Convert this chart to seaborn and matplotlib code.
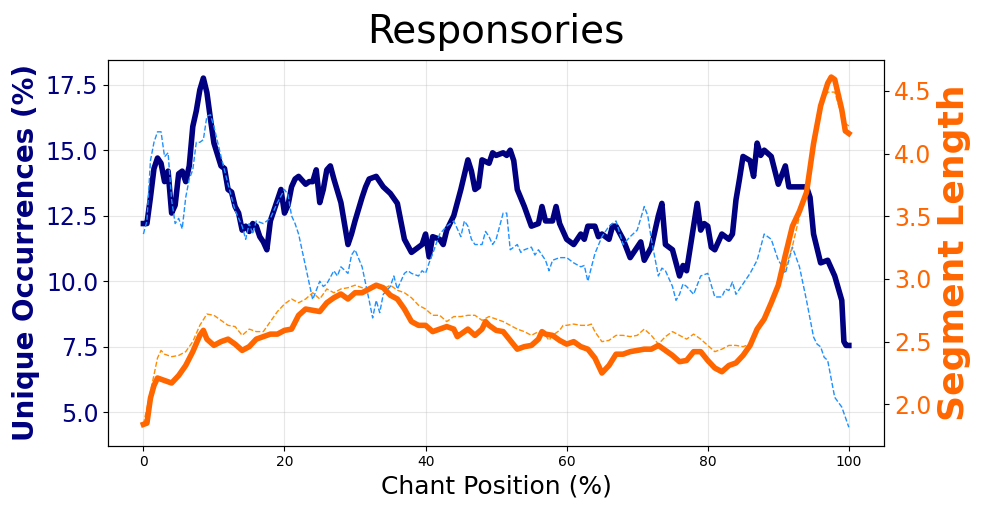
import matplotlib
matplotlib.use("Agg")
import matplotlib.pyplot as plt
from matplotlib.ticker import MultipleLocator
import seaborn as sns

# unique occurrences (%), rolling mean - thick navy
uo_pos = [0, 0.5, 1, 1.5, 2, 2.5, 3, 3.5, 4, 4.5, 5, 5.5, 6, 6.5, 7, 7.5, 8, 8.5, 9, 9.5,
          10, 11, 11.5, 12, 12.5, 13, 13.5, 14, 14.5, 15, 15.5, 16, 16.5, 17, 17.5, 18, 19, 19.5,
          20, 20.5, 21, 21.5, 22, 23, 23.5, 24, 24.5, 25, 25.5, 26, 26.5, 27, 28, 29, 29.5,
          30, 31, 31.5, 32, 33, 33.5, 34, 35, 36, 37, 38, 39, 39.5, 40, 40.5, 41, 42, 42.5, 43,
          44, 45, 46, 46.5, 47, 47.5, 48, 49, 49.5, 50, 51, 51.5, 52, 52.5, 53, 54, 55, 56,
          56.5, 57, 58, 58.5, 59, 60, 61, 62, 62.5, 63, 64, 64.5, 65, 66, 66.5, 67, 68, 69,
          70, 70.5, 71, 72, 73, 73.5, 74, 75, 76, 76.5, 77, 78, 78.5, 79, 79.5, 80, 80.5, 81,
          82, 83, 83.5, 84, 84.5, 85, 86, 86.5, 87, 87.5, 88, 89, 90, 91, 91.5, 92, 93, 94,
          94.5, 95, 96, 97, 98, 99, 99.3, 99.6, 100]
uo_val = [12.2, 12.2, 13.2, 14.3, 14.7, 14.5, 13.8, 14.2, 12.6, 12.9, 14.1, 14.2, 13.8, 14.4,
          15.9, 16.5, 17.3, 17.75, 17.2, 16.2, 15.27, 14.4, 14.3, 13.5, 13.4, 12.85, 12.6,
          11.95, 12.1, 11.9, 12.2, 12.1, 11.7, 11.5, 11.2, 12.3, 13.1, 13.5, 12.6, 12.9, 13.6,
          13.9, 14.0, 13.7, 13.8, 13.8, 14.25, 13.0, 13.5, 14.25, 14.4, 13.9, 13.0, 11.4, 11.8,
          12.3, 13.2, 13.6, 13.9, 14.0, 13.8, 13.6, 13.35, 12.97, 11.6, 11.1, 11.3, 11.4, 11.8,
          10.93, 11.7, 11.6, 11.4, 11.95, 12.5, 13.5, 14.63, 14.2, 13.5, 13.6, 14.63, 14.5,
          14.9, 14.8, 14.9, 14.8, 15.0, 14.6, 13.5, 12.85, 12.1, 12.2, 12.85, 12.3, 12.3,
          12.85, 12.2, 11.6, 11.4, 11.8, 11.6, 12.1, 12.1, 11.7, 11.8, 11.6, 12.1, 12.1, 11.6,
          10.9, 11.3, 11.5, 10.8, 11.3, 12.5, 12.97, 11.4, 11.2, 10.2, 10.6, 10.4, 12.1, 12.97,
          11.95, 12.2, 12.1, 11.3, 11.2, 11.8, 11.6, 11.8, 13.1, 13.9, 14.76, 14.6, 14.0, 15.27,
          14.8, 15.0, 14.76, 13.7, 14.4, 13.6, 13.6, 13.6, 13.6, 13.2, 11.8, 10.7, 10.8, 10.2,
          9.27, 7.7, 7.55, 7.55]

# unique occurrences (%), second curve - thin dashed blue
uo2_pos = [0, 0.5, 1, 1.5, 2, 2.5, 3, 3.5, 4, 4.5, 5, 5.5, 6, 6.5, 7, 7.5, 8, 8.5, 9, 9.5,
           10, 11, 12, 13, 14, 14.5, 15, 15.5, 16, 17, 18, 19, 20, 20.5, 21, 21.5, 22, 23, 24,
           25, 25.5, 26, 27, 27.5, 28, 29, 29.5, 30, 31, 32, 32.5, 33, 33.5, 34, 35, 35.5, 36,
           37, 37.5, 38, 39, 39.5, 40, 40.5, 41, 42, 43, 44, 45, 45.5, 46, 46.5, 47, 48, 48.5,
           49, 49.5, 50, 51, 51.5, 52, 53, 53.5, 54, 55, 55.5, 56, 57, 57.5, 58, 59, 60, 61,
           62, 62.5, 63, 64, 65, 66, 67, 68, 69, 70, 71, 71.5, 72, 73, 73.5, 74, 75, 75.5, 76,
           76.5, 77, 78, 79, 80, 81, 82, 82.5, 83, 83.5, 84, 85, 86, 87, 88, 89, 90, 90.5, 91,
           92, 93, 94, 95, 95.5, 96, 96.5, 97, 98, 99, 100]
uo2_val = [11.8, 12.3, 14.6, 15.3, 15.7, 15.7, 14.75, 14.9, 13.1, 12.2, 12.4, 12.0, 13.2,
           13.9, 14.25, 15.3, 15.3, 15.4, 16.3, 16.35, 15.9, 14.76, 13.7, 12.7, 12.1, 11.6,
           12.2, 11.8, 12.3, 12.2, 12.4, 13.0, 13.5, 13.3, 12.5, 12.2, 11.8, 10.55, 9.3, 10.0,
           9.8, 9.9, 10.4, 10.2, 10.55, 10.3, 11.0, 11.2, 10.55, 9.27, 8.6, 9.27, 8.8, 9.5, 9.8,
           10.2, 9.7, 10.3, 10.4, 10.3, 10.2, 10.4, 10.3, 10.7, 11.05, 11.8, 12.1, 12.3, 11.7,
           12.3, 12.1, 11.6, 11.4, 11.4, 11.9, 11.7, 11.4, 11.6, 12.6, 12.6, 11.2, 11.4, 11.1,
           11.2, 11.3, 11.0, 11.2, 10.8, 10.4, 10.8, 10.9, 10.9, 10.7, 10.55, 10.6, 10.0, 11.05,
           11.7, 12.1, 12.3, 11.4, 11.7, 11.95, 12.85, 12.5, 11.6, 10.2, 10.5, 10.4, 9.8, 9.27,
           9.5, 9.9, 9.8, 9.5, 10.2, 10.3, 9.4, 9.4, 9.7, 9.65, 9.97, 9.5, 9.9, 10.3, 10.8,
           11.8, 11.6, 10.8, 10.6, 10.3, 11.3, 10.55, 9.27, 7.87, 7.6, 7.5, 7.1, 6.98, 5.57,
           5.2, 4.43]

# segment length - thick orange
sl_pos = [0, 0.5, 1, 1.5, 2, 3, 4, 5, 6, 7, 8, 8.5, 9, 10, 11, 12, 13, 14, 15, 16, 17, 18,
          19, 20, 21, 22, 23, 24, 25, 26, 27, 28, 29, 30, 31, 32, 33, 34, 35, 36, 37, 38, 39,
          40, 41, 42, 43, 44, 44.5, 45, 46, 47, 48, 48.5, 49, 50, 51, 52, 53, 54, 55, 56, 56.5,
          57, 58, 59, 60, 61, 62, 63, 64, 65, 66, 67, 68, 69, 70, 71, 72, 73, 74, 75, 76, 77,
          78, 79, 80, 81, 82, 83, 84, 85, 86, 87, 88, 89, 90, 91, 92, 93, 94, 95, 96, 97, 97.5,
          98, 99, 99.5, 100]
sl_val = [1.84, 1.85, 2.05, 2.15, 2.21, 2.19, 2.17, 2.23, 2.31, 2.42, 2.55, 2.59, 2.52, 2.47,
          2.50, 2.52, 2.48, 2.43, 2.46, 2.52, 2.54, 2.56, 2.56, 2.59, 2.60, 2.71, 2.76, 2.75,
          2.74, 2.81, 2.85, 2.88, 2.84, 2.89, 2.89, 2.92, 2.95, 2.93, 2.87, 2.84, 2.76, 2.66,
          2.63, 2.63, 2.58, 2.60, 2.62, 2.60, 2.54, 2.56, 2.60, 2.55, 2.60, 2.66, 2.63, 2.59,
          2.58, 2.51, 2.44, 2.46, 2.47, 2.52, 2.58, 2.56, 2.55, 2.51, 2.48, 2.50, 2.46, 2.44,
          2.37, 2.25, 2.31, 2.40, 2.40, 2.42, 2.43, 2.44, 2.44, 2.47, 2.43, 2.39, 2.34, 2.35,
          2.42, 2.42, 2.35, 2.29, 2.26, 2.31, 2.33, 2.39, 2.47, 2.60, 2.68, 2.81, 2.95, 3.19,
          3.42, 3.54, 3.69, 4.08, 4.38, 4.56, 4.61, 4.59, 4.35, 4.18, 4.16]

# segment length, second curve - thin dashed orange
sl2_pos = [0, 1, 2, 2.5, 3, 4, 5, 6, 7, 8, 9, 10, 11, 12, 13, 14, 15, 16, 17, 18, 19, 20,
           21, 22, 23, 24, 25, 26, 27, 28, 29, 30, 31, 32, 33, 34, 35, 36, 37, 38, 39, 40, 41,
           42, 43, 44, 45, 46, 47, 48, 49, 50, 51, 52, 53, 54, 55, 56, 57, 57.5, 58, 59, 59.5,
           60, 61, 62, 63, 63.5, 64, 65, 66, 67, 68, 69, 70, 71, 72, 73, 74, 75, 76, 77, 78,
           79, 80, 81, 82, 83, 84, 85, 86, 87, 88, 89, 90, 91, 92, 93, 94, 95, 96, 97, 98, 99,
           99.5, 100]
sl2_val = [1.84, 2.10, 2.37, 2.43, 2.40, 2.38, 2.39, 2.42, 2.50, 2.63, 2.72, 2.71, 2.67,
           2.63, 2.62, 2.55, 2.60, 2.58, 2.58, 2.66, 2.74, 2.80, 2.84, 2.81, 2.84, 2.89, 2.84,
           2.92, 2.89, 2.92, 2.93, 2.95, 2.93, 2.92, 2.95, 2.92, 2.95, 2.91, 2.89, 2.85, 2.79,
           2.76, 2.71, 2.71, 2.66, 2.70, 2.70, 2.71, 2.71, 2.67, 2.70, 2.68, 2.66, 2.63, 2.60,
           2.58, 2.55, 2.58, 2.55, 2.51, 2.55, 2.59, 2.63, 2.63, 2.64, 2.63, 2.63, 2.64, 2.58,
           2.50, 2.51, 2.55, 2.55, 2.54, 2.55, 2.60, 2.55, 2.48, 2.54, 2.58, 2.55, 2.52, 2.56,
           2.52, 2.47, 2.42, 2.44, 2.47, 2.47, 2.46, 2.48, 2.58, 2.66, 2.78, 3.00, 3.08, 3.26,
           3.50, 3.69, 4.08, 4.38, 4.49, 4.49, 4.30, 4.24, 4.22]

NAVY = "#000080"
ORANGE = "#ff6600"

fig = plt.figure(figsize=(9.83, 5.08), dpi=100)
ax = fig.add_axes([0.110, 0.1226, 0.7894, 0.7593])

sns.lineplot(x=uo_pos, y=uo_val, ax=ax, color=NAVY, linewidth=4)
sns.lineplot(x=uo2_pos, y=uo2_val, ax=ax, color="#1e90ff", linewidth=1, linestyle="--")
ax.set_ylim(3.725, 18.44)
ax.yaxis.set_major_locator(MultipleLocator(2.5))
ax.set_xlabel("Chant Position (%)", fontsize=18)
ax.set_ylabel("Unique Occurrences (%)", fontsize=20, fontweight="bold", color=NAVY)
ax.tick_params(axis="y", labelcolor=NAVY, labelsize=17)
ax.grid(True, alpha=0.3)
ax.set_title("Responsories", fontsize=28, pad=12)

ax2 = ax.twinx()
sns.lineplot(x=sl2_pos, y=sl2_val, ax=ax2, color="#ff8c00", linewidth=1, linestyle="--")
sns.lineplot(x=sl_pos, y=sl_val, ax=ax2, color=ORANGE, linewidth=4)
ax2.set_ylim(1.67, 4.746)
ax2.set_ylabel("Segment Length", fontsize=26, fontweight="bold", color=ORANGE)
ax2.tick_params(axis="y", labelcolor=ORANGE, labelsize=17)

fig.savefig("out.png", dpi=100)
